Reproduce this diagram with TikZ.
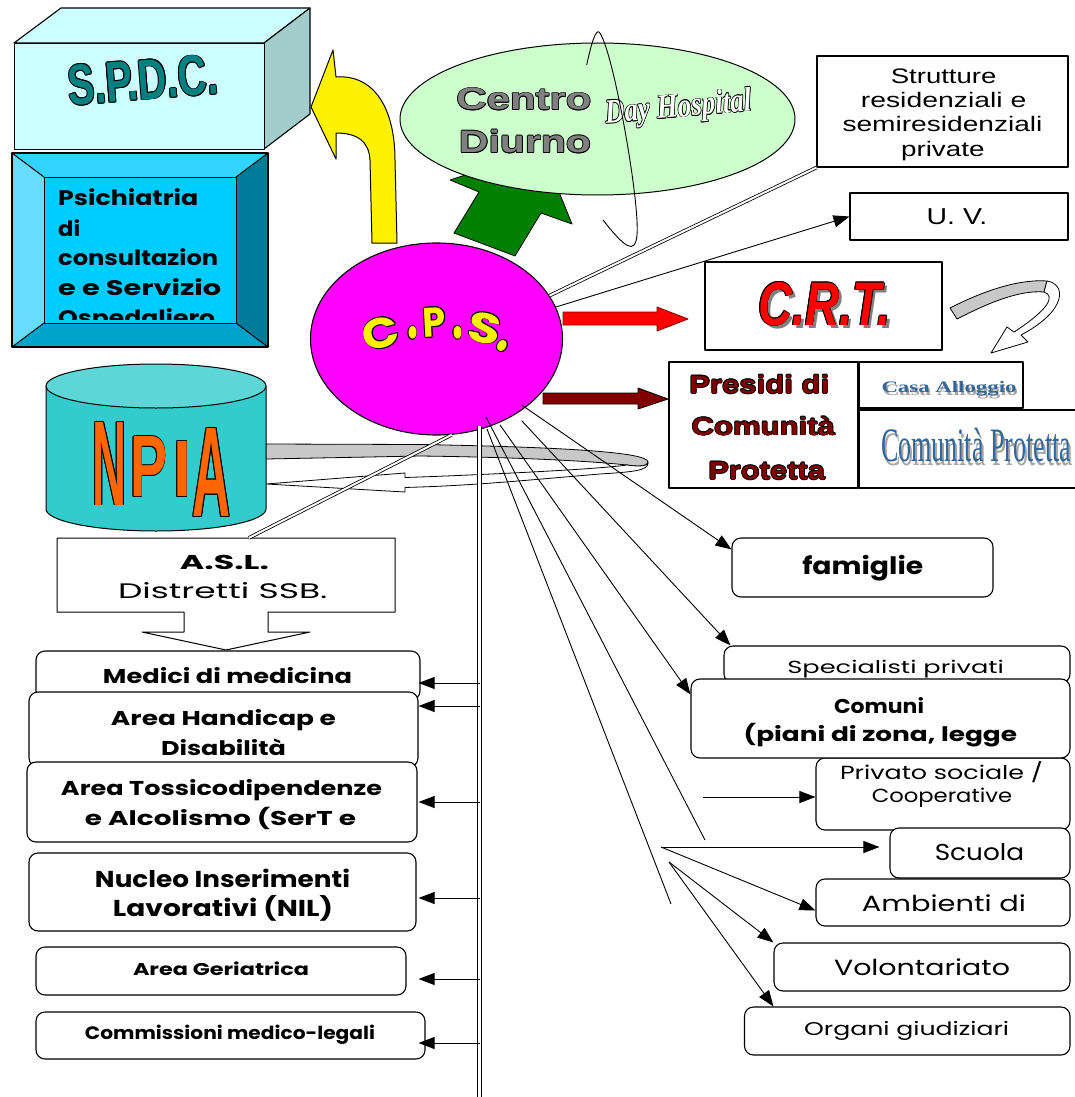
\documentclass[tikz,border=0pt]{standalone}
\usepackage{fontspec}
\usepackage{graphicx}
\usetikzlibrary{arrows.meta,shapes.geometric}
\newfontfamily\cfont{Poppins}
\newfontfamily\afont{Liberation Sans}
\newfontfamily\tfont{Liberation Serif}

\definecolor{spdcfront}{HTML}{CCFFFF}
\definecolor{spdcside}{HTML}{A3CCCC}
\definecolor{spdcteal}{HTML}{008080}
\definecolor{psitop}{HTML}{33D3FF}
\definecolor{psileft}{HTML}{66DDFF}
\definecolor{psiright}{HTML}{007A99}
\definecolor{psibot}{HTML}{00A3CC}
\definecolor{psiface}{HTML}{00CCFF}
\definecolor{cdgreen}{HTML}{CCFFCC}
\definecolor{arrgreen}{HTML}{008000}
\definecolor{cpsmag}{HTML}{FF00FF}
\definecolor{darkred}{HTML}{800000}
\definecolor{npiabody}{HTML}{33CCCC}
\definecolor{npiatop}{HTML}{5CD6D6}
\definecolor{npiaor}{HTML}{FF6600}
\definecolor{ribbon}{HTML}{C8C8C8}
\definecolor{wablue}{HTML}{336699}
\definecolor{wagrey}{HTML}{A6A6A6}

% outlined text: outline width, fill colour, content
\newbox\olbox
\newlength\olw
\newcommand\olt[3]{%
  \setlength\olw{#1}%
  \setbox\olbox=\hbox{#3}%
  \leavevmode
  \rlap{\color{black}\kern\olw\copy\olbox}%
  \rlap{\color{black}\kern-\olw\copy\olbox}%
  \rlap{\color{black}\raise\olw\copy\olbox}%
  \rlap{\color{black}\lower\olw\copy\olbox}%
  \rlap{\color{black}\kern.7\olw\raise.7\olw\copy\olbox}%
  \rlap{\color{black}\kern-.7\olw\raise.7\olw\copy\olbox}%
  \rlap{\color{black}\kern.7\olw\lower.7\olw\copy\olbox}%
  \rlap{\color{black}\kern-.7\olw\lower.7\olw\copy\olbox}%
  {\color{#2}\box\olbox}}
% text set to a given width (and height)
\newcommand\fw[2]{\resizebox{#1pt}{\height}{#2}}
\newcommand\fwh[3]{\resizebox{#1pt}{#2pt}{#3}}

\tikzset{
  cb/.style={font=\cfont\bfseries\fontsize{#1}{#1}\selectfont},
  cr/.style={font=\cfont\fontsize{#1}{#1}\selectfont},
  af/.style={font=\afont\fontsize{#1}{#1}\selectfont},
  afb/.style={font=\afont\bfseries\fontsize{#1}{#1}\selectfont},
  afbi/.style={font=\afont\bfseries\itshape\fontsize{#1}{#1}\selectfont},
  tf/.style={font=\tfont\fontsize{#1}{#1}\selectfont},
  tfb/.style={font=\tfont\bfseries\fontsize{#1}{#1}\selectfont},
  tfbi/.style={font=\tfont\bfseries\itshape\fontsize{#1}{#1}\selectfont},
  txt/.style={inner sep=0pt, anchor=base},
  sbox/.style={draw, line width=1.1pt, fill=white, inner sep=0pt},
  rbox/.style={sbox, rounded corners=9pt},
  ln/.style={line width=0.9pt},
  arr/.style={ln, -{Triangle[length=16pt,width=12pt]}},
  dbl/.style={double, double distance=2pt, line width=0.8pt},
  trunkline/.style={double, double distance=3.5pt, line width=1pt},
}

\begin{document}
\begin{tikzpicture}[x=1pt,y=-1pt,line join=round]
\useasboundingbox (0,0) rectangle (1074,1097);
\fill[white] (0,0) rectangle (1074,1097);

% ---------- S.P.D.C. block ----------
\filldraw[fill=spdcfront, line width=1.1pt] (14,43) -- (61,8) -- (310,8) -- (264,43) -- cycle;
\filldraw[fill=spdcside, line width=1.1pt] (264,43) -- (310,8) -- (310,114) -- (264,149) -- cycle;
\node[sbox, fill=spdcfront, minimum width=250, minimum height=106, anchor=north west] (spdc) at (14,43) {};
\node[rotate=4.5, inner sep=0pt, afb=50] (spdc-t) at (143,80) {\olt{0.9pt}{spdcteal}{\fwh{150}{40}{S.P.D.C.}}};

% ---------- bevelled box ----------
\fill[psitop] (12,153) -- (268,153) -- (236,177) -- (44,177) -- cycle;
\fill[psileft] (12,153) -- (44,177) -- (44,323) -- (12,347) -- cycle;
\fill[psiright] (268,153) -- (268,347) -- (236,323) -- (236,177) -- cycle;
\fill[psibot] (12,347) -- (44,323) -- (236,323) -- (268,347) -- cycle;
\draw[line width=1.1pt] (12,153) rectangle (268,347);
\draw[line width=1pt] (12,153) -- (44,177) (268,153) -- (236,177) (12,347) -- (44,323) (268,347) -- (236,323);
\node[sbox, fill=psiface, minimum width=192, minimum height=146, anchor=north west] (psi) at (44,177) {};
\begin{scope}
\clip (44,177) rectangle (236,319);
\node[txt, cb=21, anchor=base west] (psi-t1) at (58,205) {\fw{140}{Psichiatria}};
\node[txt, cb=21, anchor=base west] (psi-t2) at (58,236) {\fw{22}{di}};
\node[txt, cb=21, anchor=base west] (psi-t3) at (58,265) {\fw{160}{consultazion}};
\node[txt, cb=21, anchor=base west] (psi-t4) at (58,295) {\fw{163}{e e Servizio}};
\node[txt, cb=21, anchor=base west] (psi-t5) at (58,325) {\fw{157}{Ospedaliero}};
\end{scope}

% ---------- yellow bent arrow ----------
\filldraw[fill=yellow, line width=1pt] (311,107) -- (333,50) -- (336,77)
  .. controls (375,74) and (395,110) .. (395,160) -- (397,243) -- (372,243) -- (370,160)
  .. controls (369,142) and (358,133) .. (336,133) -- (336,159) -- cycle;

% ---------- green arrow and Centro Diurno ----------
\filldraw[fill=arrgreen, line width=0.8pt] (542,150) -- (572,224) -- (541,213) -- (515,256)
  -- (454,233) -- (479,192) -- (450,180) -- cycle;
\node[ellipse, draw, line width=1pt, fill=cdgreen, minimum width=395, minimum height=152, inner sep=0pt] (cd) at (597.5,119) {};
\node[txt, afb=31] (cd-t1) at (524,110) {\olt{0.8pt}{gray}{\fw{135}{Centro}}};
\node[txt, afb=31] (cd-t2) at (525,152.7) {\olt{0.8pt}{gray}{\fw{132}{Diurno}}};
\node[txt, tfbi=34, rotate=5] (cd-t3) at (679,117) {\olt{0.6pt}{white}{\fw{147}{Day Hospital}}};
\draw[ln] (586.7,65) .. controls (592,40) and (596,30) .. (599,32)
  .. controls (612,45) and (640,200) .. (637,235)
  .. controls (635,255) and (625,248) .. (603,220);

% ---------- upper right boxes ----------
\node[sbox, minimum width=251, minimum height=111] (strut) at (942.5,111.5) {};
\node[txt, af=21] (strut-t1) at (943.6,83.3) {\fw{105.6}{Strutture}};
\node[txt, af=21] (strut-t2) at (943.6,107.7) {\fw{165.5}{residenziali e}};
\node[txt, af=21] (strut-t3) at (942.5,131.7) {\fw{200}{semiresidenziali}};
\node[txt, af=21] (strut-t4) at (942.8,156) {\fw{83.5}{private}};

\node[sbox, minimum width=218, minimum height=47] (uv) at (959,216.5) {};
\node[txt, af=23] (uv-t) at (957,224.3) {\fw{60.6}{U. V.}};

\node[sbox, minimum width=237, minimum height=88] (crt) at (823.5,306) {};
\node[txt, afbi=60, text=gray] (crt-s) at (828,328.5) {\fwh{132.8}{43}{C.R.T.}};
\node[txt, afbi=60] (crt-t) at (824.4,325) {\olt{0.8pt}{red}{\fwh{132.8}{43}{C.R.T.}}};

% curled ribbon arrow beside C.R.T.
\filldraw[fill=ribbon, line width=0.8pt] (950,308) .. controls (985,290) and (1020,279) .. (1047,281)
  -- (1044,292) .. controls (1020,290) and (990,302) .. (957,319) -- cycle;
\filldraw[fill=white, line width=0.8pt] (1047,281) .. controls (1066,284) and (1068,310) .. (1021,335)
  -- (1028,342) -- (991,353) -- (1007,327) -- (1014,332)
  .. controls (1048,310) and (1056,296) .. (1044,292) -- cycle;

% ---------- NPIA cylinder ----------
\filldraw[fill=npiabody, line width=1pt] (46,386) -- (46,509)
  arc[start angle=180, end angle=360, x radius=110pt, y radius=22pt] -- (266,386) -- cycle;
\filldraw[fill=npiatop, line width=1pt] (156,386) ellipse [x radius=110pt, y radius=22pt];
\node[minimum width=220, minimum height=167, inner sep=0pt] (npia) at (156,447.5) {};
\node[afb=40, inner sep=0pt] (npia-n) at (109.5,463.5) {\olt{0.8pt}{npiaor}{\fwh{34}{83}{N}}};
\node[afb=40, inner sep=0pt] (npia-p) at (148.5,466.7) {\olt{0.8pt}{npiaor}{\fwh{37}{60}{P}}};
\node[afb=40, inner sep=0pt] (npia-i) at (182,469) {\olt{0.8pt}{npiaor}{\fwh{18}{55}{I}}};
\node[afb=40, inner sep=0pt] (npia-a) at (211.5,472.5) {\olt{0.8pt}{npiaor}{\fwh{38}{88}{A}}};

% ribbon loop back into NPIA
\filldraw[fill=ribbon, line width=0.8pt] (npia.east |- 0,444) -- (420,444.5)
  .. controls (560,447) and (648,452) .. (648,462)
  .. controls (648,466) and (640,467) .. (627,465)
  .. controls (580,460) and (500,457) .. (420,456) -- (npia.east |- 0,459) -- cycle;
\filldraw[fill=white, line width=0.8pt] (648,462) .. controls (650,471) and (630,472) .. (600,474)
  .. controls (540,479) and (480,485) .. (420,487) -- (405,487.5) -- (405,492)
  -- (npia.east |- 0,484) -- (405,473) -- (405,477.5) -- (420,477)
  .. controls (500,474) and (600,469) .. (627,465)
  .. controls (640,467) and (648,466) .. (648,462) -- cycle;

% ---------- C.P.S. ----------
\node[ellipse, draw, line width=1.1pt, fill=cpsmag, minimum width=252, minimum height=192, inner sep=0pt] (cps) at (436.5,339) {};
\node[cb=40, inner sep=0pt, rotate=15] (cps-c) at (381,333) {\olt{0.9pt}{yellow}{\fwh{37}{30}{C}}};
\node[cb=40, inner sep=0pt] (cps-d1) at (412.5,333) {\olt{0.9pt}{yellow}{\fwh{11}{12}{.}}};
\node[cb=40, inner sep=0pt, rotate=3] (cps-p) at (434.5,322.5) {\olt{0.9pt}{yellow}{\fwh{23}{29}{P}}};
\node[cb=40, inner sep=0pt] (cps-d2) at (457.5,332.5) {\olt{0.9pt}{yellow}{\fwh{11}{12}{.}}};
\node[cb=40, inner sep=0pt, rotate=-12] (cps-s) at (485,328) {\olt{0.9pt}{yellow}{\fwh{33}{30}{S}}};
\node[cb=40, inner sep=0pt, rotate=-30] (cps-d3) at (502.5,346) {\olt{0.9pt}{yellow}{\fwh{12}{11}{.}}};

% block arrows out of C.P.S.
\filldraw[fill=red, draw=darkred, line width=0.8pt] (563,312) -- (657,312) -- (657,307) -- (688,319)
  -- (657,331) -- (657,325) -- (563,325) -- cycle;
\filldraw[fill=darkred, draw=black, line width=0.8pt] (543,393) -- (638,393) -- (638,388) -- (668,399)
  -- (638,409) -- (638,404) -- (543,404) -- cycle;

% ---------- Presidi ----------
\node[sbox, minimum width=189, minimum height=126] (pres) at (763.5,425) {};
\node[txt, afb=25] (pres-t1) at (759.3,393.3) {\olt{0.7pt}{darkred}{\fw{140}{Presidi di}}};
\node[txt, afb=25] (pres-t2) at (763.3,435) {\olt{0.7pt}{darkred}{\fw{143.3}{Comunità}}};
\node[txt, afb=25] (pres-t3) at (766.7,479.3) {\olt{0.7pt}{darkred}{\fw{116.7}{Protetta}}};
\node[sbox, minimum width=164, minimum height=46] (casa) at (941,385) {};
\node[txt, tfb=16, text=wagrey] (casa-s) at (950.5,395.5) {\fw{135}{Casa Alloggio}};
\node[txt, tfb=16, text=wablue] (casa-t) at (949,392.7) {\fw{135}{Casa Alloggio}};
\node[sbox, minimum width=230, minimum height=78] (cprot) at (974,449) {};
\node[txt, tf=48, text=wagrey] (cprot-s) at (978,465.5) {\fw{190}{Comunità Protetta}};
\node[txt, tf=48, text=wablue] (cprot-t) at (976,461) {\fw{190}{Comunità Protetta}};

% ---------- A.S.L. callout ----------
\filldraw[fill=white, line width=1pt] (57,538) -- (395,538) -- (395,612) -- (268,612) -- (268,632)
  -- (310,632) -- (226,650) -- (142,632) -- (184,632) -- (184,612) -- (57,612) -- cycle;
\node[minimum width=338, minimum height=74, inner sep=0pt] (asl) at (226,575) {};
\node[txt, cb=20] (asl-t1) at (224.4,569.3) {\fw{89}{A.S.L.}};
\node[txt, cr=21] (asl-t2) at (222.7,598.3) {\fw{209.4}{Distretti SSB.}};

% ---------- connectors from C.P.S. ----------
\draw[dbl] (cps.21) -- (strut.south west);
\draw[arr] (cps.15) -- (uv.west);
\draw[dbl] (cps.-81) -- ([xshift=23pt]asl.north);
\coordinate (trunktop) at (479.5,426);
\coordinate (trunkbot) at (479.5,1100);
\draw[trunkline] (trunktop) -- (trunkbot);

% ---------- left column ----------
\node[rbox, minimum width=384, minimum height=49] (medici) at (228,675.5) {};
\node[txt, cb=20] (medici-t) at (227.5,683.3) {\fw{249}{Medici di medicina}};
\node[rbox, minimum width=389, minimum height=75] (handicap) at (223.5,729.5) {};
\node[txt, cb=20] (handicap-t1) at (223.5,725) {\fw{225}{Area Handicap e}};
\node[txt, cb=20] (handicap-t2) at (223.5,755) {\fw{125}{Disabilità}};
\node[rbox, minimum width=390, minimum height=80] (tossico) at (222,802) {};
\node[txt, cb=20] (tossico-t1) at (221.5,795) {\fw{321}{Area Tossicodipendenze}};
\node[txt, cb=20] (tossico-t2) at (220.5,825) {\fw{271}{e Alcolismo (SerT e}};
\node[rbox, minimum width=387, minimum height=78] (nil) at (222.5,892) {};
\node[txt, cb=23] (nil-t1) at (222.5,887.7) {\fw{255}{Nucleo Inserimenti}};
\node[txt, cb=23] (nil-t2) at (223,916.7) {\fw{220}{Lavorativi (NIL)}};
\node[rbox, minimum width=370, minimum height=48] (geri) at (221,971) {};
\node[txt, cb=17] (geri-t) at (221,975) {\fw{176}{Area Geriatrica}};
\node[rbox, minimum width=389, minimum height=47] (comm) at (230.5,1035.5) {};
\node[txt, cb=18] (comm-t) at (230,1039) {\fw{290}{Commissioni medico-legali}};

\path ([yshift=-7.5pt, xshift=-2pt]medici.east) coordinate (l1)
      ([yshift=23.5pt]handicap.east) coordinate (l2)
      ([xshift=1pt]tossico.east) coordinate (l3)
      ([yshift=-6pt, xshift=2pt]nil.east) coordinate (l4)
      ([yshift=-8pt, xshift=12pt]geri.east) coordinate (l5)
      ([yshift=-7.5pt, xshift=-7pt]comm.east) coordinate (l6);
\foreach \c in {l1,l2,l3,l4,l5,l6}
  \draw[arr] (trunktop |- \c) -- (\c);

% ---------- right column ----------
\node[rbox, minimum width=261, minimum height=59] (famiglie) at (862.5,567.5) {};
\node[txt, cb=24] (famiglie-t) at (862.8,574) {\fw{121}{famiglie}};
\node[rbox, minimum width=346, minimum height=37] (spec) at (897,664.5) {};
\node[txt, cr=17.5] (spec-t) at (895.7,673.3) {\fw{216.6}{Specialisti privati}};
\node[rbox, minimum width=254, minimum height=72] (privato) at (943,794) {};
\node[txt, cr=19] (privato-t1) at (941.5,779.3) {\fw{203}{Privato sociale /}};
\node[txt, cr=19] (privato-t2) at (942,802.7) {\fw{140.5}{Cooperative}};
\node[rbox, minimum width=379, minimum height=79] (comuni) at (880.5,718.5) {};
\node[txt, cb=20] (comuni-t1) at (879,713.3) {\fw{90}{Comuni}};
\node[txt, cb=20] (comuni-t2) at (880.4,741.7) {\fw{273.4}{(piani di zona, legge}};
\node[rbox, minimum width=180, minimum height=50] (scuola) at (980,853) {};
\node[txt, cr=23] (scuola-t) at (979.5,860.7) {\fw{89.5}{Scuola}};
\node[rbox, minimum width=254, minimum height=47] (ambienti) at (943,902.5) {};
\node[txt, cr=22] (ambienti-t) at (943.9,911) {\fw{164}{Ambienti di}};
\node[rbox, minimum width=296, minimum height=48] (volont) at (922,967) {};
\node[txt, cr=22] (volont-t) at (922,975) {\fw{176}{Volontariato}};
\node[rbox, minimum width=325.5, minimum height=48] (organi) at (907.25,1031) {};
\node[txt, cr=18.5] (organi-t) at (906.6,1035) {\fw{205}{Organi giudiziari}};

% fan of links below C.P.S.
\coordinate (fa) at (521.7,405);
\coordinate (fb) at (521.7,420.7);
\coordinate (fc) at (500,425);
\coordinate (fd) at (486,417);
\coordinate (fe) at (487,429);
\coordinate (fdend) at (705,840);
\coordinate (feend) at (671,904);
\draw[arr] (fa) -- ([yshift=-12pt]famiglie.north west);
\draw[arr] (fb) -- ([xshift=7pt]spec.north west);
\draw[arr] (fc) -- ([yshift=-16pt]comuni.north west);
\draw[ln] (fd) -- (fdend);
\draw[ln] (fe) -- (feend);

\coordinate (pv) at (703,797);
\draw[arr] (pv) -- (privato.west |- pv);
\coordinate (hub1) at (661,847);
\coordinate (hub2) at (669,862);
\path ([xshift=-10pt]scuola.west) coordinate (sc0);
\draw[arr] (hub1) -- (sc0 |- hub1);
\draw[arr] (hub1) -- ([yshift=-8pt]ambienti.west);
\draw[arr] (hub2) -- (volont.north west);
\draw[arr] (hub2) -- ([xshift=29.5pt]organi.north west);
\end{tikzpicture}
\end{document}
